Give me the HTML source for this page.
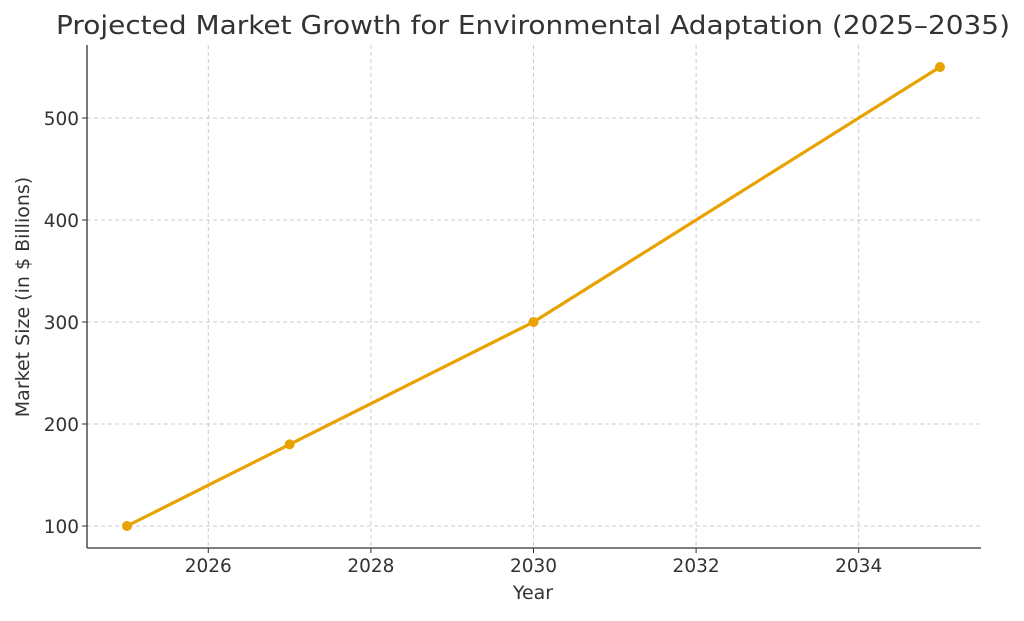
<!DOCTYPE html>
<html><head><meta charset="utf-8"><style>
body{margin:0;background:#fff;}
svg text{font-family:"DejaVu Sans","Liberation Sans",sans-serif;fill:#333;}
</style></head><body>
<svg width="1024" height="616" xmlns="http://www.w3.org/2000/svg">
<text x="533" y="34" font-size="25.5" text-anchor="middle" textLength="954" lengthAdjust="spacingAndGlyphs">Projected Market Growth for Environmental Adaptation (2025–2035)</text>
<g id="grid"></g>
<g id="axes"></g>
<g id="series"></g>
<text x="533" y="599" font-size="19" text-anchor="middle">Year</text>
<text transform="translate(29,297) rotate(-90)" font-size="19" text-anchor="middle">Market Size (in $ Billions)</text>
</svg>
<script>
const years = [2025, 2027, 2030, 2035];
const values = [100, 180, 300, 550];
const xTicks = [2026, 2028, 2030, 2032, 2034];
const yTicks = [100, 200, 300, 400, 500];
const NS = "http://www.w3.org/2000/svg";
const L = 87, R = 981, T = 45, B = 548;
function xs(v){ return 127 + (v - 2025) * 81.3; }
function ys(v){ return 526 - (v - 100) * 1.02; }
function mk(tag, attrs, parent){ const e = document.createElementNS(NS, tag); for (const k in attrs) e.setAttribute(k, attrs[k]); parent.appendChild(e); return e; }
const grid = document.getElementById('grid'), axes = document.getElementById('axes'), series = document.getElementById('series');
xTicks.forEach(t => {
  const g = mk('line', {x1: xs(t), x2: xs(t), y1: T, y2: B, stroke: '#ccc', 'stroke-dasharray': '4,3'}, grid);
  
  
  mk('line', {x1: xs(t), x2: xs(t), y1: B, y2: B + 5, stroke: '#333'}, axes);
  const tx = mk('text', {x: xs(t), y: B + 24, 'font-size': 18.5, 'text-anchor': 'middle'}, axes);
  tx.textContent = t;
  
  
});
yTicks.forEach(t => {
  const g = mk('line', {x1: L, x2: R, y1: ys(t), y2: ys(t), stroke: '#ccc', 'stroke-dasharray': '4,3'}, grid);
  
  
  mk('line', {x1: L - 5, x2: L, y1: ys(t), y2: ys(t), stroke: '#333'}, axes);
  const tx = mk('text', {x: L - 8, y: ys(t) + 7, 'font-size': 18.5, 'text-anchor': 'end'}, axes);
  tx.textContent = t;
  
  
});
const ax1 = mk('line', {x1: L, x2: L, y1: T, y2: B, stroke: '#333', 'stroke-width': 1.3}, axes);


const ax2 = mk('line', {x1: L, x2: R, y1: B, y2: B, stroke: '#333', 'stroke-width': 1.3}, axes);


const pl = mk('polyline', {points: years.map((y, i) => xs(y) + ',' + ys(values[i])).join(' '), fill: 'none', stroke: '#E8A202', 'stroke-width': 3.2}, series);


years.forEach((y, i) => {
  const c = mk('circle', {cx: xs(y), cy: ys(values[i]), r: 5, fill: '#E8A202'}, series);
  
  
});
</script>
</body></html>
